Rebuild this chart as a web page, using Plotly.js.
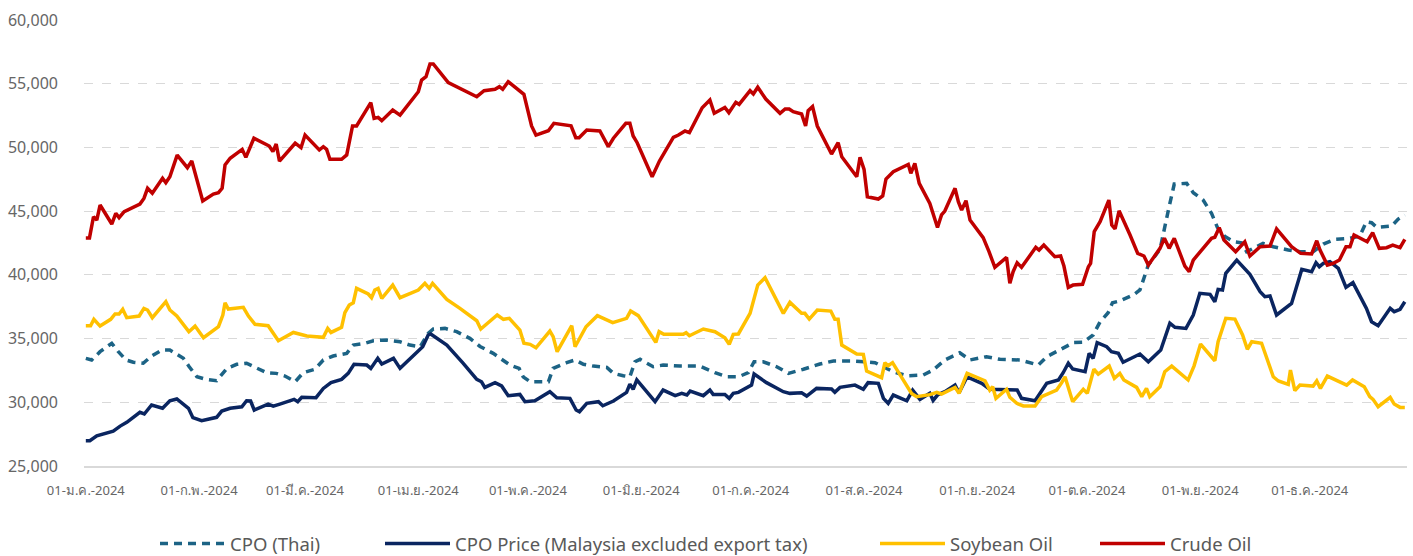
<!DOCTYPE html>
<html>
<head>
<meta charset="utf-8">
<script src="https://cdn.plot.ly/plotly-3.0.1.min.js"></script>
<style>html,body{margin:0;padding:0;background:#fff;}#chart{width:1413px;height:556px;}</style>
</head>
<body>
<div id="chart"></div>
<script>
// Day offsets are days after 01-Jan-2024 (approximate trading days)
const seriesNames = ["CPO (Thai)", "CPO Price (Malaysia excluded export tax)", "Soybean Oil", "Crude Oil"];

const cpoThaiDays = [0,1.6,3.9,7.1,8.9,11.0,13.0,15.7,18.0,20.8,23.0,26.7,28.3,30.4,32.9,35.8,38.6,41.3,44.0,46.8,49.5,52.1,54.5,57.3,59.5,62.7,65.0,67.7,71.4,73.2,76.4,78.7,82.3,86.0,88.7,91.5,93.7,95.1,98.3,101.5,105.1,107.9,111.5,116.1,118.6,119.7,121.6,126.6,127.9,131.6,133.9,136.2,138.9,142.6,144.4,147.1,148.9,150.3,151.7,155.3,158.0,162.6,168.0,172.2,175.4,178.6,181.3,182.9,185.4,189.1,192.3,196.4,200.9,204.6,210.0,216.0,221.0,224.7,229.2,231.9,235.1,239.2,242.0,246.5,250.2,255.7,260.7,263.0,267.5,270.3,273.0,275.7,277.6,279.8,281.0,283.0,286.7,288.5,290.8,294.0,296.3,297.9,301.3,303.1,305.8,308.1,309.7,311.8,314.2,316.3,317.7,322.2,325.0,329.1,332.3,335.9,338.7,341.9,346.0,348.7,350.5,351.9,353.3,357.4,359.2,361.0];
const cpoThaiVals = [33450,33320,33970,34630,33970,33320,33140,33060,33630,34100,34100,33450,32790,32000,31800,31690,32660,32980,33060,32660,32320,32270,32060,31610,32320,32590,33320,33630,33840,34490,34630,34830,34890,34750,34490,34360,35400,35750,35800,35540,35020,34380,33840,32920,32660,32000,31610,31610,32660,33110,33320,32980,32840,32740,32270,32080,32000,33180,33370,32790,32920,32840,32840,32320,32000,32000,32320,33180,33180,32790,32270,32590,33000,33240,33240,33110,32400,32080,32140,32530,33320,33890,33320,33580,33370,33320,32920,33580,34230,34680,34710,35280,36320,37030,37810,37950,38420,38810,40770,42000,45090,47130,47180,46450,45870,44830,43730,43000,42600,42520,41820,42470,42210,41950,41820,41820,42420,42790,42870,43050,44170,44090,43730,43830,44380,44700];

const cpoMyDays = [0,1.1,3.0,7.5,9.4,11.2,14.8,16.0,18.0,21.0,23.0,24.9,28.1,29.3,31.7,35.8,37.2,39.5,42.7,44.0,45.1,46.1,49.9,51.3,53.1,57.0,58.0,59.1,63.0,65.0,67.1,70.0,71.8,73.4,76.9,78.0,79.9,81.0,84.2,86.0,92.2,93.7,94.4,98.8,103.3,107.0,108.3,109.2,112.0,113.8,115.6,118.8,120.2,122.9,127.0,128.9,132.5,134.2,135.1,137.1,140.3,141.5,144.4,148.0,148.9,149.8,150.8,155.8,158.0,161.3,163.1,164.5,165.4,169.0,170.8,171.7,174.9,176.1,177.2,178.6,182.2,182.9,186.3,190.9,192.7,195.9,197.3,200.0,204.1,205.0,206.4,210.5,212.8,214.1,216.9,218.3,219.6,221.0,224.7,226.3,228.3,231.0,231.9,233.1,235.1,237.9,239.0,241.2,245.2,247.4,254.9,256.1,259.8,263.0,266.2,267.5,268.9,270.1,273.5,274.6,275.7,276.8,279.4,280.7,282.6,283.9,288.5,290.8,294.2,296.7,298.1,301.1,303.1,304.9,307.7,309.0,309.9,311.1,312.0,315.0,318.6,321.4,322.7,324.1,325.9,330.0,332.8,335.5,336.7,337.6,338.7,340.5,342.8,344.9,346.8,350.5,351.9,353.7,357.0,358.1,359.7,361.0];
const cpoMyVals = [26980,26980,27370,27740,28130,28430,29210,29080,29790,29530,30120,30260,29530,28790,28550,28820,29310,29530,29650,30120,30100,29390,29860,29700,29860,30230,30050,30390,30360,31090,31540,31800,32270,32980,32920,32660,33450,33000,33450,32660,34360,35280,35360,34490,33060,31800,31610,31170,31540,31280,30520,30620,30050,30120,30830,30360,30310,29390,29260,29920,30050,29730,30100,30780,31430,31020,31750,30050,30960,30520,30700,30570,30880,30520,30960,30620,30620,30310,30700,30780,31350,32220,31540,30830,30700,30750,30490,31090,31040,30780,31170,31350,31020,31540,31490,30310,29920,30570,30120,30960,30230,30700,30150,30570,30830,31350,30750,32000,31490,31020,30960,30310,30120,31490,31750,32320,33060,32610,32400,33840,33450,34680,34360,33970,33840,33140,33790,33180,34100,36200,35880,35800,36850,38550,38470,37890,38860,38810,40120,41160,40040,38680,38290,38340,36850,37760,40430,40250,40950,40640,40900,41030,40510,39020,39390,37370,36320,36010,37370,37110,37300,37890];

const soyDays = [0,1.3,2.2,3.9,6.8,8.0,9.1,10.1,11.2,14.6,15.9,16.9,18.2,21.9,23.0,24.9,28.2,29.9,32.2,36.3,37.5,38.1,39.0,43.1,44.5,46.3,49.9,52.7,56.8,60.5,65.0,66.2,67.1,70.0,70.9,72.1,73.2,74.1,77.3,78.2,79.1,80.0,81.0,84.0,86.0,91.0,92.8,94.0,94.9,98.8,102.4,107.0,108.1,112.6,114.3,115.9,118.8,119.9,121.6,123.2,127.0,127.9,129.0,133.0,133.9,135.2,136.9,140.0,144.2,148.0,149.1,151.2,156.0,156.9,158.2,163.5,164.3,165.2,169.0,172.2,174.9,176.1,177.2,178.6,181.8,183.9,185.9,190.9,192.7,195.9,196.8,198.0,200.2,203.9,205.0,205.9,206.9,211.0,212.8,213.7,217.8,218.7,219.6,220.8,226.0,227.4,231.0,232.9,234.2,237.9,239.0,241.2,244.7,246.1,247.4,248.2,249.1,252.0,252.9,254.8,256.6,259.8,261.6,265.7,267.1,268.0,270.1,273.0,274.1,275.9,277.1,280.1,281.5,283.0,284.1,287.6,289.0,290.3,291.2,294.0,295.3,297.2,301.7,303.3,305.1,309.0,309.9,312.0,314.5,316.6,317.9,319.1,321.8,325.0,326.4,329.1,329.7,330.9,332.3,335.9,336.9,337.9,339.8,345.1,346.7,349.9,351.4,352.3,353.7,357.0,358.1,359.7,361.0];
const soyVals = [36010,36010,36510,35980,36510,36930,36930,37300,36640,36770,37370,37240,36640,37890,37240,36770,35540,35980,35070,35930,36850,37810,37320,37450,36770,36120,36010,34830,35480,35200,35100,35800,35480,35880,37030,37630,37810,38940,38500,38210,38810,38940,38160,39200,38210,38810,39330,38940,39330,38080,37370,36400,35750,36850,36510,36590,35670,34630,34550,34280,35590,35150,33970,36010,34360,35020,35930,36800,36250,36590,37160,36800,34700,35540,35330,35330,35460,35220,35750,35540,35070,34550,35330,35360,36980,39200,39780,36980,37840,36980,36980,36530,37240,37160,36510,36510,34490,33790,33760,32450,31930,33110,32870,33110,30700,30440,30600,30780,30650,31170,30700,32270,31880,31690,30960,31220,30310,31020,30390,29920,29710,29710,30440,30960,31540,32000,30050,31020,30700,32590,32200,32840,31880,32270,31750,31170,30440,31090,30440,31220,32400,32840,31750,32840,34570,33260,34750,36590,36530,35280,34160,34750,34630,32000,31670,31410,32530,30910,31350,31270,31670,31090,32060,31350,31750,31220,30440,30230,29650,30390,29860,29600,29600];

const crudeDays = [0,1.0,2.1,3.0,3.9,7.1,8.2,9.1,10.5,14.8,15.9,16.9,18.2,21.0,21.9,23.0,25.0,27.8,29.0,30.2,32.0,34.9,36.3,37.3,38.1,39.5,42.8,43.8,46.0,50.2,51.2,52.1,53.0,57.3,58.9,60.0,63.9,65.0,65.9,66.8,70.0,71.4,73.0,74.1,76.9,78.0,78.9,80.0,81.0,84.0,86.0,91.0,91.9,93.1,94.2,95.1,99.2,102.4,107.0,109.0,112.0,113.2,114.1,115.6,119.9,122.0,123.2,126.6,128.1,132.8,134.1,135.0,137.1,140.7,143.0,144.4,147.8,148.9,149.8,150.9,155.0,157.0,160.8,162.2,164.0,165.2,168.7,170.8,172.0,174.9,176.0,177.9,178.8,181.8,182.7,183.9,186.1,190.0,191.4,192.5,193.6,195.9,197.0,197.7,198.9,200.2,204.1,205.9,206.9,211.0,211.9,213.0,213.9,216.9,218.1,219.0,221.0,225.1,225.8,226.9,228.1,231.0,233.1,234.2,235.1,237.9,238.8,239.7,240.9,242.0,245.6,247.2,248.8,252.0,252.9,253.8,254.9,256.1,260.0,260.9,262.2,265.2,266.8,267.7,268.9,270.2,272.8,274.4,275.0,276.0,277.6,280.0,280.8,281.7,282.8,285.8,287.9,289.6,290.8,294.0,295.2,296.5,297.9,300.8,302.0,303.1,306.3,308.1,309.0,310.2,311.5,314.7,317.2,318.6,321.4,324.1,325.9,330.0,332.5,335.5,336.9,337.8,339.8,341.4,343.1,344.9,346.0,347.1,350.7,352.2,354.0,356.0,357.7,359.7,361.0];
const crudeVals = [42900,42900,44560,44300,45480,43990,44830,44490,44960,45560,46000,46790,46400,47580,47230,47700,49400,48410,48930,47700,45800,46340,46450,46790,48620,49150,49850,49220,50720,50110,49670,50270,48930,50330,49980,50970,49800,50060,49850,49070,49070,49410,51680,51680,52940,53510,52280,52360,52100,52940,52540,54370,55290,55550,56550,56550,55080,54640,53980,54450,54560,54770,54560,55160,54170,51680,50970,51310,51890,51700,50760,50760,51370,51290,50060,50720,51890,51890,50900,50370,47700,48930,50790,50970,51290,51160,53120,53720,52680,53140,52730,53540,53380,54450,54190,54720,53800,52680,53020,53020,52800,52620,51680,52880,53200,51680,49480,50370,49270,47700,49220,48280,46130,45950,46190,47520,48090,48670,47970,48750,47180,45600,43720,44700,45010,46790,45740,45090,45820,44300,42920,41820,40590,41370,39330,40250,40950,40590,42160,41950,42340,41420,41480,40690,39020,39200,39260,40640,40900,43390,44170,45870,43910,43600,45030,43130,41690,41480,40770,42080,42870,42080,42870,40690,40250,41160,42210,42870,42950,43700,42730,41820,42600,41480,42210,42260,43600,42210,41690,41640,42680,41950,40770,40900,41160,42210,42210,43130,42600,43310,42080,42130,42340,42130,42790];

const tickDates = ["2024-01-01","2024-02-01","2024-03-01","2024-04-01","2024-05-01","2024-06-01","2024-07-01","2024-08-01","2024-09-01","2024-10-01","2024-11-01","2024-12-01"];
const tickLabels = ["01-ม.ค.-2024","01-ก.พ.-2024","01-มี.ค.-2024","01-เม.ย.-2024","01-พ.ค.-2024","01-มิ.ย.-2024","01-ก.ค.-2024","01-ส.ค.-2024","01-ก.ย.-2024","01-ต.ค.-2024","01-พ.ย.-2024","01-ธ.ค.-2024"];
const yTicks = [25000,30000,35000,40000,45000,50000,55000,60000];

function toDate(d){
  const t = new Date(Date.UTC(2024,0,1) + d*86400000);
  return t.toISOString().slice(0,19).replace('T',' ');
}

const colors = ["#1c6385","#0a2560","#ffc000","#c00000"];
const dayArrays = [cpoThaiDays, cpoMyDays, soyDays, crudeDays];
const valArrays = [cpoThaiVals, cpoMyVals, soyVals, crudeVals];
const legendIds = ["legend","legend2","legend3","legend4"];

const traces = seriesNames.map((n,i)=>({
  type:'scatter', mode:'lines', name:n,
  x: dayArrays[i].map(toDate), y: valArrays[i],
  line:{color:colors[i], width:3.5, dash: i===0 ? '8px,6px' : 'solid'},
  legend: legendIds[i]
}));

const legendFont = {family:'"Noto Sans", "DejaVu Sans", sans-serif', size:18.5, color:'#595959'};
const legendX = [155, 380, 875, 1095];
function legendCfg(i){
  return {xref:'container', yref:'container', x: legendX[i]/1413, y: 1-544/556, xanchor:'left', yanchor:'middle',
    orientation:'h', font:legendFont, itemwidth:65, bgcolor:'rgba(0,0,0,0)', borderwidth:0};
}

const layout = {
  width:1413, height:556,
  margin:{l:84, r:6, t:20, b:90},
  paper_bgcolor:'#ffffff', plot_bgcolor:'#ffffff',
  showlegend:true,
  legend: legendCfg(0), legend2: legendCfg(1), legend3: legendCfg(2), legend4: legendCfg(3),
  xaxis:{
    type:'date', range:[toDate(-0.5), toDate(361.6)],
    tickmode:'array', tickvals: tickDates, ticktext: tickLabels,
    showgrid:false, zeroline:false,
    showline:true, linecolor:'#d9d9d9', linewidth:2,
    ticks:'', ticklabelstandoff:11,
    tickfont:{family:'"Noto Sans", "DejaVu Sans", sans-serif', size:13, color:'#666666'}
  },
  yaxis:{
    range:[25000,60000], tickmode:'array', tickvals:yTicks, tickformat:',d',
    showgrid:true, gridcolor:'#d9d9d9', griddash:'dash', gridwidth:1,
    zeroline:false, showline:false, ticks:'', ticklabelstandoff:25,
    tickfont:{family:'"Noto Sans", "DejaVu Sans", sans-serif', size:16, color:'#666666'}
  }
};

Plotly.newPlot('chart', traces, layout, {staticPlot:true, displayModeBar:false});
</script>
</body>
</html>
